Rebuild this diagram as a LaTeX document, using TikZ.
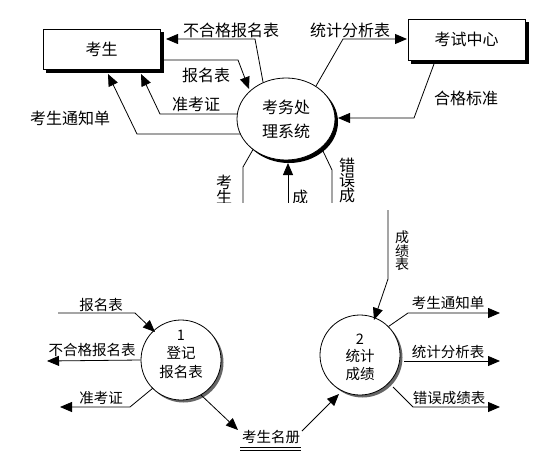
\documentclass[tikz,border=0pt]{standalone}
\usepackage{fontspec}
\setmainfont{Noto Sans CJK SC}
\usetikzlibrary{arrows.meta,shapes.geometric}
\begin{document}
\begin{tikzpicture}[x=1pt,y=-1pt,
  flow/.style={draw=black, line width=0.8pt, -{Triangle[length=12pt,width=10pt]}},
  plain/.style={draw=black, line width=0.8pt},
  big/.style={font=\fontsize{16}{16}\selectfont, inner sep=0pt},
  small/.style={font=\fontsize{14.5}{14.5}\selectfont, inner sep=0pt},
  entity/.style={draw=black, fill=white, line width=0.8pt, minimum width=117pt, minimum height=40pt, inner sep=0pt, font=\fontsize{16}{16}\selectfont},
  procbox/.style={circle, draw=black, fill=white, line width=0.8pt, minimum size=80pt, inner sep=0pt, align=center, font=\fontsize{14.5}{18}\selectfont}
]
\useasboundingbox (0,0) rectangle (543,463);
\fill[white] (0,0) rectangle (543,463);

% ---------------- top part (clipped) ----------------
\begin{scope}
\clip (0,0) rectangle (543,202);
% entity shadows
\fill[black] (46,32) rectangle (164,73);
\fill[black] (411,22) rectangle (529,64);
\node[entity] (stu) at (101.5,49) {考生};
\node[entity, minimum height=41pt] (ctr) at (466.5,39.5) {考试中心};
% system ellipse with shadow
\fill[black] (289,122) ellipse [x radius=49, y radius=41];
\node[ellipse, draw=black, fill=white, line width=0.8pt, minimum width=98pt, minimum height=82pt, inner sep=0pt, align=center, font=\fontsize{16}{24}\selectfont] (sys) at (286,119) {考务处\\理系统};

% coordinates
\coordinate (a1) at (255,39);
\coordinate (a1e) at (166,39);
\coordinate (b0) at (164,60);
\coordinate (b1) at (238,60);
\coordinate (b1e) at (249,89);
\coordinate (c0) at (237.5,114);
\coordinate (c1) at (160,114);
\coordinate (c1e) at (141,74);
\coordinate (d0) at (240.5,134);
\coordinate (d1) at (137,134);
\coordinate (d1e) at (108,74);
\coordinate (e0) at (316,86);
\coordinate (e1) at (343,39);
\coordinate (e1e) at (407,39);
\coordinate (f0) at (434,64);
\coordinate (f1) at (414,118);
\coordinate (f1e) at (338,118);
\coordinate (g0) at (253,149.5);
\coordinate (g1) at (243,167);
\coordinate (g2) at (243,205);
\coordinate (h0) at (288,205);
\coordinate (h1e) at (288,163);
\coordinate (i0) at (322,149);
\coordinate (i1) at (332,170);
\coordinate (i2) at (332,205);

\draw[flow] (sys.122) -- (a1) -- (a1e);
\draw[flow] (b0) -- (b1) -- (b1e);
\draw[flow] (c0) -- (c1) -- (c1e);
\draw[flow] (d0) -- (d1) -- (d1e);
\draw[flow] (e0) -- (e1) -- (e1e);
\draw[flow] (f0) -- (f1) -- (f1e);
\draw[plain] (g0) -- (g1) -- (g2);
\draw[flow] (h0) -- (h1e);
\draw[plain] (i0) -- (i1) -- (i2);

\node[big] (t1) at (231,30) {不合格报名表};
\node[big] (t2) at (206,75) {报名表};
\node[big] (t3) at (196,104) {准考证};
\node[big] (t4) at (70,118) {考生通知单};
\node[big] (t5) at (350,30) {统计分析表};
\node[big] (t6) at (466,98) {合格标准};
\node[big, align=center, font=\fontsize{16}{15}\selectfont] (t7) at (224,190) {考\\生};
\node[big] (t8) at (300,197) {成};
\node[big, align=center, font=\fontsize{16}{15}\selectfont] (t9) at (347,180) {错\\误\\成};
\end{scope}

% ---------------- bottom part ----------------
\fill[black!60] (183.5,362.5) circle [radius=40];
\node[procbox] (p1) at (181,360) {};
\fill[black!60] (362.5,357.5) circle [radius=40];
\node[procbox] (p2) at (360,355) {};
\node[small, align=center, font=\fontsize{14.5}{18.5}\selectfont] (p1t) at (181,354) {1\\登记\\报名表};
\node[small, align=center, font=\fontsize{14.5}{17.5}\selectfont] (p2t) at (360,357) {2\\统计\\成绩};

\node[small] (st) at (271,437) {考生名册};
\coordinate (sl) at (240,447.5);
\coordinate (sr) at (301,447.5);
\draw[line width=1pt] (sl) -- (sr);
\draw[line width=1pt] ([yshift=-2.5pt]sl) -- ([yshift=-2.5pt]sr);

\coordinate (j0) at (388,210);
\coordinate (j1) at (388,279);
\coordinate (j1e) at (374,320);
\coordinate (k1) at (408,313);
\coordinate (k1e) at (500,313);
\coordinate (l0) at (404,361);
\coordinate (l1e) at (500,361);
\coordinate (m0) at (393,387);
\coordinate (m1) at (413,407);
\coordinate (m1e) at (500,407);
\coordinate (n0) at (302,431);
\coordinate (n1e) at (339,394);
\coordinate (o0) at (201,395);
\coordinate (o1e) at (238,430);
\coordinate (q0) at (58,313);
\coordinate (q1) at (135,313);
\coordinate (q1e) at (155,332);
\coordinate (r1e) at (47,361);
\coordinate (s0) at (153,388);
\coordinate (s1) at (130,407);
\coordinate (s1e) at (60,407);

\draw[flow] (j0) -- (j1) -- (j1e);
\draw[flow] (p2.45) -- (k1) -- (k1e);
\draw[flow] (l0) -- (l1e);
\draw[flow] (m0) -- (m1) -- (m1e);
\draw[flow] (n0) -- (n1e);
\draw[flow] (o0) -- (o1e);
\draw[flow] (q0) -- (q1) -- (q1e);
\draw[flow] (p1.west) -- (r1e);
\draw[flow] (s0) -- (s1) -- (s1e);

\node[small, align=center, font=\fontsize{14}{13.5}\selectfont] (u1) at (402,251) {成\\绩\\表};
\node[small] (u2) at (448,303) {考生通知单};
\node[small] (u3) at (448,352) {统计分析表};
\node[small] (u4) at (449,398) {错误成绩表};
\node[small] (u5) at (101,305) {报名表};
\node[small] (u6) at (92,350) {不合格报名表};
\node[small] (u7) at (101,398) {准考证};
\end{tikzpicture}
\end{document}
